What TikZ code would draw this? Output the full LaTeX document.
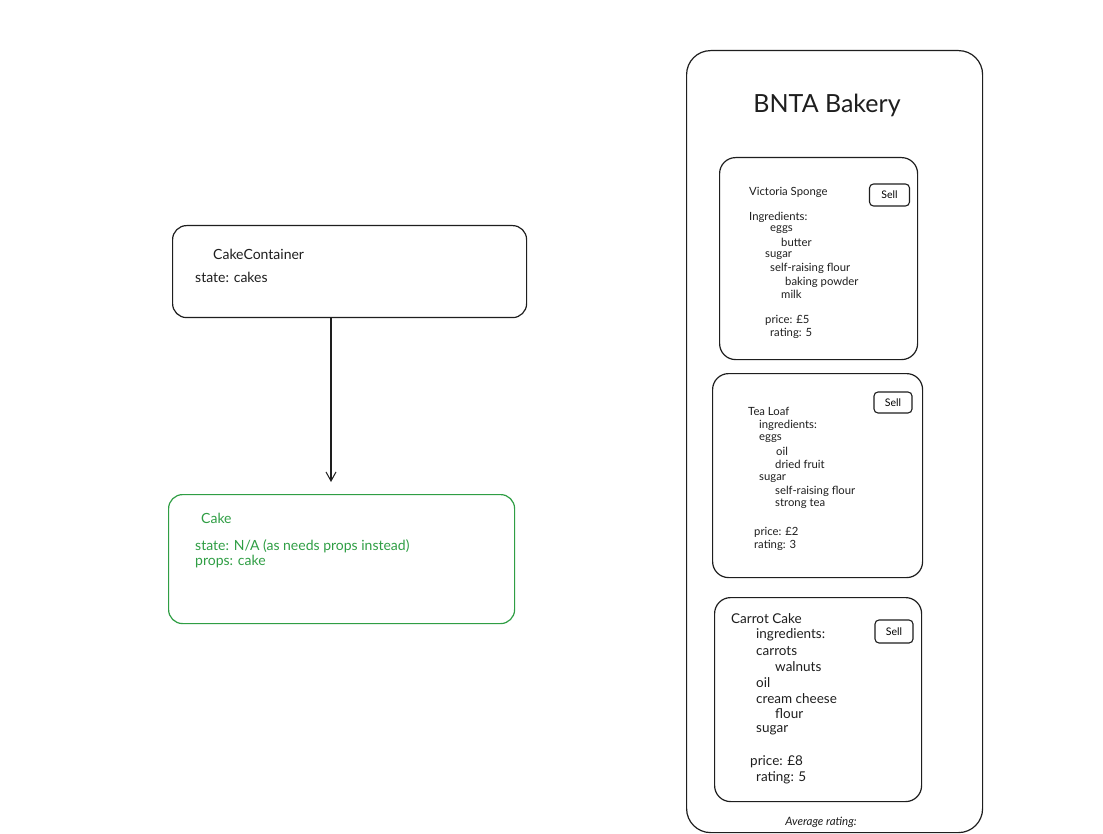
\documentclass[tikz,border=0pt]{standalone}
\usepackage{fontspec}
\setmainfont{Lato}
\usetikzlibrary{arrows.meta}
\definecolor{exgreen}{HTML}{2F9E44}
\definecolor{exink}{HTML}{1E1E1E}
\tikzset{
  box/.style={draw=exink, line width=1.2pt, rounded corners=14pt},
  card/.style={draw=exink, line width=1.2pt, rounded corners=16pt},
  sellbtn/.style={draw=exink, line width=1.1pt, rounded corners=4pt, minimum width=40pt, minimum height=22pt, inner sep=0pt, font=\fontsize{10.5}{11}\selectfont},
  lbl/.style={anchor=west, inner sep=0pt, text=exink, font=\fontsize{14}{15}\selectfont},
  sm/.style={anchor=west, inner sep=0pt, text=exink, font=\fontsize{11.3}{12}\selectfont},
  md/.style={anchor=west, inner sep=0pt, text=exink, font=\fontsize{13.5}{14}\selectfont},
  gl/.style={anchor=west, inner sep=0pt, text=exgreen, font=\fontsize{14}{15}\selectfont},
}
\begin{document}
\begin{tikzpicture}[x=1pt,y=-1pt]
\useasboundingbox (0,0) rectangle (1103,834);
\fill[white] (0,0) rectangle (1103,834);

% left: CakeContainer
\node[box, minimum width=354pt, minimum height=92pt, anchor=north west] (cc) at (172,225) {};
\node[lbl] (ccname) at (213,254) {CakeContainer};
\node[lbl] (ccstate) at (195,277) {state: cakes};

% left: Cake
\node[box, draw=exgreen, minimum width=346pt, minimum height=129pt, anchor=north west] (cake) at (168,494) {};
\node[gl] (cakename) at (201,518) {Cake};
\node[gl] (cakestate) at (195,546) {state: N/A (as needs props instead)};
\node[gl] (cakeprops) at (195,562) {props: cake};

\coordinate (arrend) at (331,482);
\draw[exink, line width=1.3pt, -{Straight Barb[length=9pt,width=10pt,line width=1pt]}] (cc.south -| arrend) -- (arrend);

% right panel
\node[card, rounded corners=24pt, minimum width=296pt, minimum height=782pt, anchor=north west] (panel) at (686,50) {};
\node[anchor=center, inner sep=0pt, text=exink, font=\fontsize{25}{27}\selectfont] (title) at (827,105) {BNTA Bakery};

% card 1
\node[card, minimum width=198pt, minimum height=202pt, anchor=north west] (c1) at (719,157) {};
\node[sellbtn] (s1) at (889.5,195) {Sell};
\node[sm] (t1) at (749,192) {Victoria Sponge};
\node[sm] (i1) at (749,217) {Ingredients:};
\node[sm] (i1a) at (770,230) {eggs};
\node[sm] (i1b) at (781,242) {butter};
\node[sm] (i1c) at (765,256) {sugar};
\node[sm] (i1d) at (770,268) {self-raising flour};
\node[sm] (i1e) at (785,282) {baking powder};
\node[sm] (i1f) at (781,294) {milk};
\node[sm] (p1) at (765,320) {price: £5};
\node[sm] (r1) at (770,333) {rating: 5};

% card 2
\node[card, minimum width=210pt, minimum height=204pt, anchor=north west] (c2) at (712,373) {};
\node[sellbtn, minimum width=38pt, minimum height=21pt] (s2) at (893,402.5) {Sell};
\node[sm] (t2) at (748,411) {Tea Loaf};
\node[sm] (i2) at (759,425) {ingredients:};
\node[sm] (i2a) at (759,439) {eggs};
\node[sm] (i2b) at (776,451) {oil};
\node[sm] (i2c) at (775,464) {dried fruit};
\node[sm] (i2d) at (759,479) {sugar};
\node[sm] (i2e) at (775,491) {self-raising flour};
\node[sm] (i2f) at (775,504) {strong tea};
\node[sm] (p2) at (754,532) {price: £2};
\node[sm] (r2) at (754,545) {rating: 3};

% card 3
\node[card, minimum width=207pt, minimum height=204pt, anchor=north west] (c3) at (714,597) {};
\node[sellbtn, minimum width=38pt, minimum height=23pt] (s3) at (894,631.5) {Sell};
\node[md] (t3) at (731,619) {Carrot Cake};
\node[md] (i3) at (756,635) {ingredients:};
\node[md] (i3a) at (756,651) {carrots};
\node[md] (i3b) at (775,667) {walnuts};
\node[md] (i3c) at (756,683) {oil};
\node[md] (i3d) at (756,699) {cream cheese};
\node[md] (i3e) at (775,714) {flour};
\node[md] (i3f) at (756,730) {sugar};
\node[md] (p3) at (750,762) {price: £8};
\node[md] (r3) at (756,778) {rating: 5};

\node[anchor=center, inner sep=0pt, text=exink, font=\fontsize{11.5}{12}\itshape] (avg) at (821,822) {Average rating:};
\end{tikzpicture}
\end{document}
